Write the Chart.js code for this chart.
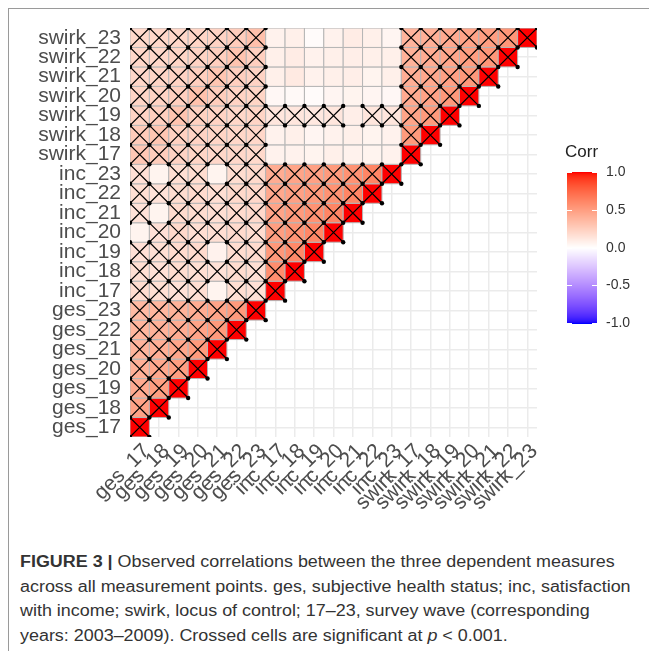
<!DOCTYPE html>
<html>
<head>
<meta charset="utf-8">
<script src="https://cdn.jsdelivr.net/npm/chart.js@4.4.1/dist/chart.umd.min.js"></script>
<style>
  html, body { margin: 0; padding: 0; background: #fff; }
  body { width: 652px; height: 654px; position: relative; overflow: hidden; font-family: "Liberation Sans", Arial, sans-serif; }
  #frame { position: absolute; left: 8px; top: 8px; width: 640px; height: 642px; border-left: 1px solid #9a9a9a; border-top: 1px solid #9a9a9a; }
  #wrap { position: absolute; left: 0; top: 0; width: 652px; height: 530px; }
  #cap { position: absolute; left: 20px; top: 550px; font-size: 16px; line-height: 24.7px; color: #333; white-space: nowrap; transform: scaleX(1.12); transform-origin: 0 0; }
</style>
</head>
<body>
<div id="frame"></div>
<div id="wrap"><canvas id="corrChart" width="652" height="530"></canvas></div>
<div id="cap"><b>FIGURE 3 |</b> Observed correlations between the three dependent measures<br>across all measurement points. ges, subjective health status; inc, satisfaction<br>with income; swirk, locus of control; 17–23, survey wave (corresponding<br>years: 2003–2009). Crossed cells are significant at <i>p</i> &lt; 0.001.</div>

<script>
// variables, bottom-to-top on y and left-to-right on x
const varLabels = [
  'ges_17', 'ges_18', 'ges_19', 'ges_20', 'ges_21', 'ges_22', 'ges_23',
  'inc_17', 'inc_18', 'inc_19', 'inc_20', 'inc_21', 'inc_22', 'inc_23',
  'swirk_17', 'swirk_18', 'swirk_19', 'swirk_20', 'swirk_21', 'swirk_22', 'swirk_23'
];

// lower triangle: row r holds corr with columns 0..r
const corrRows = [
  [1],
  [0.48, 1],
  [0.44, 0.50, 1],
  [0.41, 0.45, 0.50, 1],
  [0.39, 0.42, 0.46, 0.52, 1],
  [0.38, 0.40, 0.43, 0.47, 0.52, 1],
  [0.36, 0.38, 0.40, 0.43, 0.47, 0.52, 1],
  [0.18, 0.17, 0.16, 0.17, 0.06, 0.17, 0.16, 1],
  [0.17, 0.16, 0.18, 0.17, 0.15, 0.18, 0.17, 0.58, 1],
  [0.16, 0.17, 0.19, 0.19, 0.07, 0.18, 0.19, 0.53, 0.60, 1],
  [0.06, 0.16, 0.20, 0.17, 0.17, 0.19, 0.18, 0.50, 0.55, 0.61, 1],
  [0.15, 0.06, 0.19, 0.18, 0.17, 0.19, 0.20, 0.47, 0.52, 0.56, 0.62, 1],
  [0.17, 0.15, 0.18, 0.19, 0.17, 0.20, 0.21, 0.45, 0.49, 0.52, 0.56, 0.62, 1],
  [0.16, 0.06, 0.17, 0.18, 0.06, 0.18, 0.20, 0.43, 0.47, 0.49, 0.52, 0.56, 0.62, 1],
  [0.29, 0.26, 0.23, 0.22, 0.21, 0.21, 0.20, 0.07, 0.07, 0.06, 0.08, 0.07, 0.06, 0.07, 1],
  [0.27, 0.30, 0.24, 0.23, 0.22, 0.21, 0.21, 0.07, 0.08, 0.05, 0.07, 0.08, 0.06, 0.07, 0.52, 1],
  [0.23, 0.25, 0.31, 0.24, 0.23, 0.21, 0.22, 0.13, 0.13, 0.12, 0.13, 0.09, 0.13, 0.13, 0.47, 0.52, 1],
  [0.22, 0.23, 0.25, 0.32, 0.26, 0.23, 0.22, 0.04, 0.03, 0.02, 0.05, 0.06, 0.05, 0.04, 0.44, 0.48, 0.53, 1],
  [0.21, 0.22, 0.23, 0.25, 0.30, 0.25, 0.23, 0.08, 0.11, 0.07, 0.08, 0.09, 0.06, 0.08, 0.42, 0.45, 0.49, 0.53, 1],
  [0.21, 0.21, 0.22, 0.23, 0.25, 0.31, 0.25, 0.08, 0.10, 0.07, 0.08, 0.09, 0.08, 0.08, 0.40, 0.43, 0.46, 0.50, 0.54, 1],
  [0.20, 0.21, 0.21, 0.22, 0.23, 0.26, 0.33, 0.07, 0.08, 0.02, 0.07, 0.10, 0.08, 0.05, 0.39, 0.41, 0.44, 0.47, 0.50, 0.54, 1]
];

// 1 = significant (crossed), 0 = not
const sigRows = [
  '1',
  '11',
  '111',
  '1111',
  '11111',
  '111111',
  '1111111',
  '11110111',
  '111111111',
  '1111011111',
  '01111111111',
  '101111111111',
  '1111111111111',
  '10110111111111',
  '1111111' + '0000000' + '1',
  '1111111' + '0000000' + '11',
  '1111111' + '1111011' + '111',
  '1111111' + '0000000' + '1111',
  '1111111' + '0000000' + '11111',
  '1111111' + '0000000' + '111111',
  '1111111' + '0000000' + '1111111'
];

const legendTicks = [1.0, 0.5, 0.0, -0.5, -1.0];

// ---- colour scale: blue - white - red, interpolated in Lab ----
function toLab([r, g, b]) {
  const lin = c => { c /= 255; return c <= 0.04045 ? c / 12.92 : Math.pow((c + 0.055) / 1.055, 2.4); };
  const R = lin(r), G = lin(g), B = lin(b);
  const X = (0.4124 * R + 0.3576 * G + 0.1805 * B) / 0.95047;
  const Y = (0.2126 * R + 0.7152 * G + 0.0722 * B);
  const Z = (0.0193 * R + 0.1192 * G + 0.9505 * B) / 1.08883;
  const f = t => t > 0.008856 ? Math.cbrt(t) : 7.787 * t + 16 / 116;
  const fx = f(X), fy = f(Y), fz = f(Z);
  return [116 * fy - 16, 500 * (fx - fy), 200 * (fy - fz)];
}
function fromLab([L, a, bb]) {
  const fy = (L + 16) / 116, fx = fy + a / 500, fz = fy - bb / 200;
  const inv = t => t * t * t > 0.008856 ? t * t * t : (t - 16 / 116) / 7.787;
  const X = inv(fx) * 0.95047, Y = inv(fy), Z = inv(fz) * 1.08883;
  const R = 3.2406 * X - 1.5372 * Y - 0.4986 * Z;
  const G = -0.9689 * X + 1.8758 * Y + 0.0415 * Z;
  const B = 0.0557 * X - 0.2040 * Y + 1.0570 * Z;
  const g = c => { c = c <= 0.0031308 ? 12.92 * c : 1.055 * Math.pow(c, 1 / 2.4) - 0.055; return Math.round(Math.max(0, Math.min(1, c)) * 255); };
  return `rgb(${g(R)},${g(G)},${g(B)})`;
}
const LAB_WHITE = toLab([255, 255, 255]);
const LAB_RED = toLab([255, 0, 0]);
const LAB_BLUE = toLab([0, 0, 255]);
function corrColor(v) {
  const end = v >= 0 ? LAB_RED : LAB_BLUE;
  const t = Math.min(1, Math.abs(v));
  return fromLab(LAB_WHITE.map((w, i) => w + t * (end[i] - w)));
}

// ---- build points ----
const tiles = [];
const crosses = [];
const corners = new Map();
corrRows.forEach((row, r) => {
  row.forEach((v, c) => {
    tiles.push({ x: c, y: r, v: v });
    if (sigRows[r][c] === '1') {
      crosses.push({ x: c, y: r });
      [[-0.5, -0.5], [0.5, -0.5], [-0.5, 0.5], [0.5, 0.5]].forEach(([dx, dy]) => {
        corners.set((c + dx) + ',' + (r + dy), { x: c + dx, y: r + dy });
      });
    }
  });
});

function cellRadius(ctx) {
  const xs = ctx.chart.scales.x;
  const side = xs.getPixelForValue(1) - xs.getPixelForValue(0);
  return side / Math.SQRT2;
}

const FONT = '"Liberation Sans", Arial, sans-serif';
const labelColor = '#4d4d4d';

// ---- colourbar legend ----
const corrLegend = {
  id: 'corrLegend',
  afterDraw(chart) {
    const ctx = chart.ctx;
    const x0 = 567, w = 30, top = 172, h = 151;
    for (let i = 0; i <= h; i++) {
      ctx.fillStyle = corrColor(1 - 2 * i / h);
      ctx.fillRect(x0, top + i, w, 1);
    }
    ctx.strokeStyle = '#fff';
    ctx.lineWidth = 1;
    ctx.fillStyle = '#333';
    ctx.font = '14px ' + FONT;
    ctx.textBaseline = 'middle';
    ctx.textAlign = 'left';
    legendTicks.forEach(t => {
      const y = Math.round(top + (1 - t) / 2 * h) + 0.5;
      ctx.beginPath();
      ctx.moveTo(x0, y); ctx.lineTo(x0 + 5, y);
      ctx.moveTo(x0 + w - 5, y); ctx.lineTo(x0 + w, y);
      ctx.stroke();
      ctx.fillText(t.toFixed(1), 606, y);
    });
    ctx.font = '17px ' + FONT;
    ctx.fillStyle = '#222';
    ctx.fillText('Corr', 565, 152);
  }
};

const axisTicks = s => { s.ticks = varLabels.map((_, i) => ({ value: i })); };

new Chart(document.getElementById('corrChart'), {
  type: 'scatter',
  data: {
    datasets: [
      {
        label: 'corners',
        data: [...corners.values()],
        order: 1,
        pointStyle: 'circle',
        pointRadius: 2.2,
        backgroundColor: '#000',
        borderWidth: 0
      },
      {
        label: 'significant',
        data: crosses,
        order: 2,
        pointStyle: 'crossRot',
        pointRadius: cellRadius,
        borderColor: '#000',
        borderWidth: 1.2
      },
      {
        label: 'Corr',
        data: tiles,
        order: 3,
        pointStyle: 'rect',
        pointRadius: cellRadius,
        backgroundColor: ctx => corrColor(ctx.raw.v),
        borderColor: '#b5b5b5',
        borderWidth: 1
      }
    ]
  },
  options: {
    responsive: false,
    animation: false,
    events: [],
    layout: { padding: { top: 28, right: 115, bottom: 0, left: 0 } },
    plugins: { legend: { display: false }, tooltip: { enabled: false } },
    scales: {
      x: {
        type: 'linear', min: -0.5, max: 20.5,
        afterBuildTicks: axisTicks,
        afterFit: s => { s.height = 93; },
        border: { display: false },
        grid: { color: '#ebebeb', lineWidth: 1.5, drawTicks: false },
        ticks: {
          autoSkip: false, minRotation: 45, maxRotation: 45, padding: 2, labelOffset: 7,
          color: labelColor, font: { size: 21, family: FONT },
          callback: v => varLabels[v]
        }
      },
      y: {
        type: 'linear', min: -0.5, max: 20.5,
        afterBuildTicks: axisTicks,
        afterFit: s => { s.width = 130; },
        border: { display: false },
        grid: { color: '#ebebeb', lineWidth: 1.5, drawTicks: false },
        ticks: {
          autoSkip: false, padding: 9,
          color: labelColor, font: { size: 21, family: FONT },
          callback: v => varLabels[v]
        }
      }
    }
  },
  plugins: [corrLegend]
});
</script>
</body>
</html>
